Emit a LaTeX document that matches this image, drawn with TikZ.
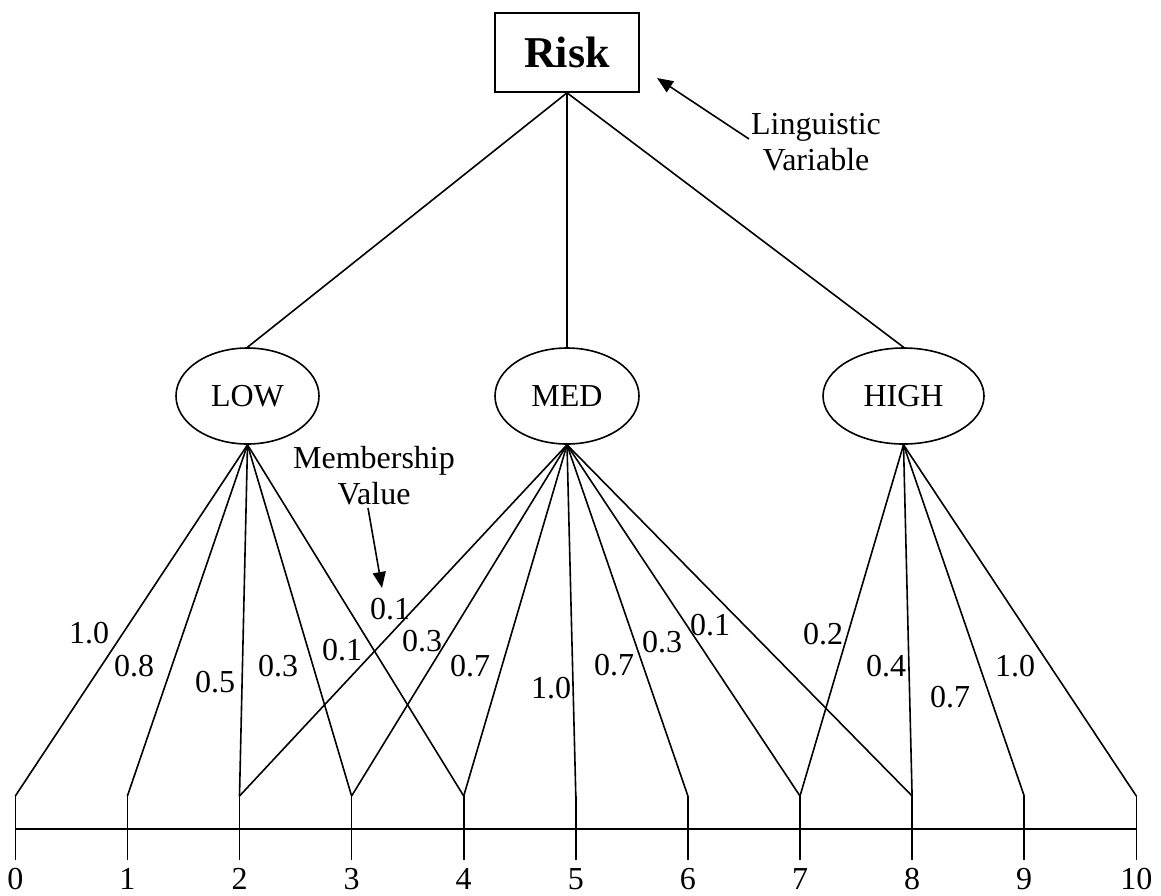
\documentclass[tikz,border=0pt]{standalone}
\usepackage{fontspec}
\setmainfont{Liberation Serif}
\usetikzlibrary{shapes.geometric,arrows.meta}
\begin{document}
\begin{tikzpicture}[x=1pt,y=-1pt,
  every path/.style={line width=1.6pt},
  txt/.style={font=\fontsize{32}{36}\selectfont, inner sep=0pt},
  val/.style={txt},
  oval/.style={draw, ellipse, line width=1.6pt, minimum height=96pt, inner sep=0pt, font=\fontsize{32}{36}\selectfont},
  pointer/.style={-{Triangle[length=16pt,width=13pt]}}]
\useasboundingbox (0,0) rectangle (1161,895);
% top box
\node[draw, line width=1.6pt, minimum width=144pt, minimum height=79pt, inner sep=0pt, font=\fontsize{44}{50}\selectfont\bfseries] (risk) at (567,52.5) {Risk};
% categories
\node[oval, minimum width=143pt] (low) at (247.5,396) {LOW};
\node[oval, minimum width=144pt] (med) at (567,396) {MED};
\node[oval, minimum width=161pt] (high) at (903.5,396) {HIGH};
\draw (risk.south) -- (low.north);
\draw (risk.south) -- (med.north);
\draw (risk.south) -- (high.north);
% ticks
\foreach \k in {0,...,10} {
  \coordinate (t\k) at ({15.3+112.1*\k},796);
  \coordinate (b\k) at ({15.3+112.1*\k},860);
  \draw (t\k) -- (b\k);
  \node[txt, anchor=base] (n\k) at ({15.3+112.1*\k},889) {\k};
}
\draw (t0 |- 0,829) -- (t10 |- 0,829);
% fans
\foreach \k in {0,...,4} { \draw (low.south) -- (t\k); }
\foreach \k in {2,...,8} { \draw (med.south) -- (t\k); }
\foreach \k in {7,...,10} { \draw (high.south) -- (t\k); }
% membership values
\node[val] (v1) at (89,633) {1.0};
\node[val] (v2) at (134,666) {0.8};
\node[val] (v3) at (215,682) {0.5};
\node[val] (v4) at (278,666) {0.3};
\node[val] (v5) at (342,650) {0.1};
\node[val] (v6) at (390,609) {0.1};
\node[val] (v7) at (422,641) {0.3};
\node[val] (v8) at (470,666) {0.7};
\node[val] (v9) at (551,688) {1.0};
\node[val] (v10) at (614,665) {0.7};
\node[val] (v11) at (662,642) {0.3};
\node[val] (v12) at (710,625) {0.1};
\node[val] (v13) at (823,634) {0.2};
\node[val] (v14) at (886,666) {0.4};
\node[val] (v15) at (950,697) {0.7};
\node[val] (v16) at (1015,666) {1.0};
% annotations
\node[txt, align=center] (ling) at (816,142) {Linguistic\\Variable};
\coordinate (lingfrom) at (749,139);
\coordinate (lingto) at (657,78);
\draw[pointer] (lingfrom) -- (lingto);
\node[txt, align=center] (memb) at (374,476) {Membership\\Value};
\coordinate (membfrom) at (368,508);
\coordinate (membto) at (382,588);
\draw[pointer] (membfrom) -- (membto);
\end{tikzpicture}
\end{document}
